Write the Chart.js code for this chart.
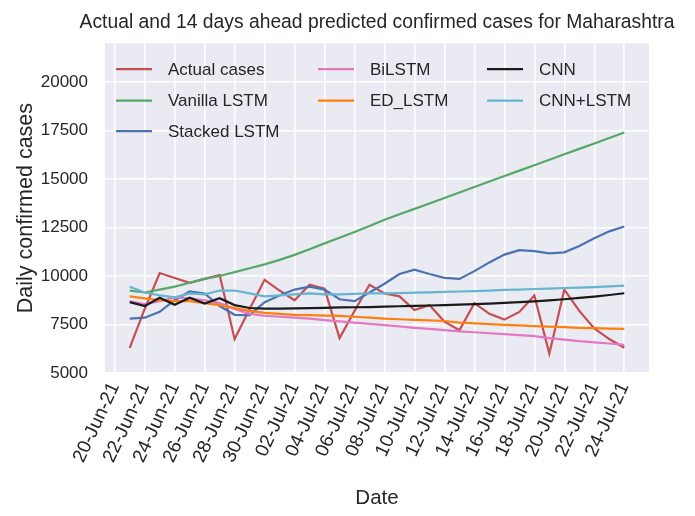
<!DOCTYPE html>
<html>
<head>
<meta charset="utf-8">
<title>Maharashtra predictions</title>
<script src="https://cdn.jsdelivr.net/npm/chart.js@4.4.0/dist/chart.umd.min.js"></script>
<style>
  html, body { margin: 0; padding: 0; background: #ffffff; }
  #wrap { width: 695px; height: 516px; }
</style>
</head>
<body>
<div id="wrap"><canvas id="predChart" width="695" height="516"></canvas></div>
<script>
// Data
const chartTitle = "Actual and 14 days ahead predicted confirmed cases for Maharashtra";
const xAxisTitle = "Date";
const yAxisTitle = "Daily confirmed cases";

const dates = [
  "21-Jun-21", "22-Jun-21", "23-Jun-21", "24-Jun-21", "25-Jun-21", "26-Jun-21", "27-Jun-21",
  "28-Jun-21", "29-Jun-21", "30-Jun-21", "01-Jul-21", "02-Jul-21", "03-Jul-21", "04-Jul-21",
  "05-Jul-21", "06-Jul-21", "07-Jul-21", "08-Jul-21", "09-Jul-21", "10-Jul-21", "11-Jul-21",
  "12-Jul-21", "13-Jul-21", "14-Jul-21", "15-Jul-21", "16-Jul-21", "17-Jul-21", "18-Jul-21",
  "19-Jul-21", "20-Jul-21", "21-Jul-21", "22-Jul-21", "23-Jul-21", "24-Jul-21"
];

const xTickLabels = [
  "20-Jun-21", "22-Jun-21", "24-Jun-21", "26-Jun-21", "28-Jun-21", "30-Jun-21",
  "02-Jul-21", "04-Jul-21", "06-Jul-21", "08-Jul-21", "10-Jul-21", "12-Jul-21",
  "14-Jul-21", "16-Jul-21", "18-Jul-21", "20-Jul-21", "22-Jul-21", "24-Jul-21"
];
const yTicks = [5000, 7500, 10000, 12500, 15000, 17500, 20000];

const actualCases = [6300, 8300, 10150, 9900, 9650, 9850, 10050, 6750, 8300, 9800, 9250, 8750, 9550, 9350,
  6800, 8200, 9550, 9100, 8950, 8250, 8500, 7650, 7200, 8600, 8050, 7750, 8150, 9000,
  6000, 9300, 8200, 7300, 6750, 6300];
const vanillaLstm = [9250, 9150, 9300, 9450, 9650, 9850, 10000, 10200, 10400, 10600, 10830, 11090, 11380, 11680,
  11970, 12270, 12580, 12900, 13180, 13460, 13740, 14020, 14300, 14590, 14870, 15150, 15430, 15710,
  15990, 16270, 16550, 16830, 17110, 17400];
const stackedLstm = [7800, 7850, 8150, 8750, 9200, 9100, 8450, 8000, 7980, 8650, 9000, 9300, 9450, 9300,
  8800, 8700, 9150, 9600, 10100, 10330, 10100, 9900, 9850, 10250, 10700, 11100, 11330, 11280,
  11170, 11220, 11550, 11950, 12300, 12550];
const biLstm = [8700, 8550, 8700, 8900, 8850, 8750, 8600, 8300, 8050, 7950, 7900, 7850, 7800, 7730,
  7660, 7600, 7530, 7470, 7400, 7330, 7270, 7210, 7150, 7100, 7050, 7000, 6950, 6900,
  6800, 6720, 6640, 6580, 6520, 6450];
const edLstm = [8950, 8850, 8750, 8700, 8700, 8600, 8500, 8350, 8200, 8100, 8050, 8000, 7980, 7960,
  7940, 7900, 7850, 7800, 7770, 7740, 7710, 7680, 7600, 7560, 7520, 7480, 7450, 7420,
  7390, 7360, 7330, 7310, 7290, 7270];
const cnn = [8650, 8450, 8880, 8520, 8880, 8580, 8850, 8500, 8350, 8320, 8320, 8330, 8340, 8360,
  8380, 8390, 8400, 8420, 8440, 8460, 8480, 8500, 8520, 8550, 8580, 8610, 8650, 8690,
  8740, 8800, 8870, 8940, 9020, 9110];
const cnnLstm = [9450, 9150, 9000, 8900, 9100, 9050, 9250, 9250, 9100, 8950, 9000, 9050, 9100, 9050,
  9050, 9080, 9100, 9100, 9120, 9140, 9160, 9180, 9200, 9220, 9250, 9280, 9300, 9330,
  9350, 9380, 9400, 9430, 9460, 9500];

const seriesNames = ["Actual cases", "Vanilla LSTM", "Stacked LSTM", "BiLSTM", "ED_LSTM", "CNN", "CNN+LSTM"];
const seriesValues = [actualCases, vanillaLstm, stackedLstm, biLstm, edLstm, cnn, cnnLstm];
const seriesColors = ["#C44E52", "#55A868", "#4C72B0", "#E377C2", "#FF7F0E", "#1A1A1A", "#64B5CD"];

// Day offsets from 20-Jun-21, used as x positions
const monthIndex = { Jun: 5, Jul: 6 };
function dayOf(label) {
  const parts = label.split("-");
  return (Date.UTC(2021, monthIndex[parts[1]], +parts[0]) - Date.UTC(2021, 5, 20)) / 86400000;
}

const FONT = "'Liberation Sans', Arial, sans-serif";
const TEXT = "#262626";

// Paint the seaborn style background behind the grid
const plotBackground = {
  id: "plotBackground",
  beforeDraw(chart) {
    const { ctx, chartArea } = chart;
    ctx.save();
    ctx.fillStyle = "#EAEAF2";
    ctx.fillRect(chartArea.left, chartArea.top, chartArea.right - chartArea.left, chartArea.bottom - chartArea.top);
    ctx.restore();
  }
};

// Center the title over the plot instead of the whole canvas
const titleOverPlot = {
  id: "titleOverPlot",
  afterLayout(chart) {
    if (chart.titleBlock) {
      chart.titleBlock.left = chart.chartArea.left - 45;
      chart.titleBlock.right = chart.chartArea.right + 45;
    }
  }
};

// Legend drawn inside the plot, matplotlib style columns (3, 2, 2)
const innerLegend = {
  id: "innerLegend",
  afterDatasetsDraw(chart) {
    const { ctx, chartArea } = chart;
    const colX = [11, 213, 382];
    const rowY = [26, 57.5, 88];
    const slots = [[0, 0], [0, 1], [0, 2], [1, 0], [1, 1], [2, 0], [2, 1]];
    ctx.save();
    ctx.font = "17px " + FONT;
    ctx.textBaseline = "middle";
    chart.data.datasets.forEach((ds, i) => {
      const x = chartArea.left + colX[slots[i][0]];
      const y = chartArea.top + rowY[slots[i][1]];
      ctx.strokeStyle = ds.borderColor;
      ctx.lineWidth = 2.4;
      ctx.beginPath();
      ctx.moveTo(x, y);
      ctx.lineTo(x + 36, y);
      ctx.stroke();
      ctx.fillStyle = TEXT;
      ctx.fillText(ds.label, x + 52, y + 1);
    });
    ctx.restore();
  }
};

const datasets = seriesNames.map((name, i) => ({
  label: name,
  data: dates.map((d, j) => ({ x: dayOf(d), y: seriesValues[i][j] })),
  borderColor: seriesColors[i],
  backgroundColor: seriesColors[i],
  borderWidth: 2.2,
  pointRadius: 0,
  tension: 0,
  fill: false,
  order: seriesNames.length - i
}));

new Chart(document.getElementById("predChart"), {
  type: "line",
  data: { datasets: datasets },
  plugins: [plotBackground, titleOverPlot, innerLegend],
  options: {
    responsive: false,
    animation: false,
    devicePixelRatio: 1,
    layout: { padding: { left: 0, right: 46, top: 0, bottom: 0 } },
    plugins: {
      legend: { display: false },
      tooltip: { enabled: false },
      title: {
        display: true,
        text: chartTitle,
        color: TEXT,
        font: { family: FONT, size: 19.3, weight: "normal" },
        padding: { top: 11, bottom: 9 }
      }
    },
    scales: {
      x: {
        type: "linear",
        min: -0.65,
        max: 35.65,
        afterBuildTicks: (scale) => {
          scale.ticks = xTickLabels.map(l => ({ value: dayOf(l) }));
        },
        afterFit: (scale) => { scale.height = 143; },
        ticks: {
          autoSkip: false,
          maxRotation: 65,
          minRotation: 65,
          padding: 6,
          color: TEXT,
          font: { family: FONT, size: 19 },
          callback: (value, index) => xTickLabels[index]
        },
        grid: { color: "#FFFFFF", lineWidth: 1.6, drawTicks: false },
        border: { display: false },
        title: {
          display: true,
          text: xAxisTitle,
          color: TEXT,
          font: { family: FONT, size: 20.5 },
          padding: { top: 0, bottom: 5 }
        }
      },
      y: {
        min: 5000,
        max: 22000,
        afterBuildTicks: (scale) => {
          scale.ticks = yTicks.map(v => ({ value: v }));
        },
        afterFit: (scale) => { scale.width = 105; },
        ticks: {
          padding: 17,
          color: TEXT,
          font: { family: FONT, size: 17 },
          callback: (value) => String(value)
        },
        grid: { color: "#FFFFFF", lineWidth: 1.6, drawTicks: false },
        border: { display: false },
        title: {
          display: true,
          text: yAxisTitle,
          color: TEXT,
          font: { family: FONT, size: 21.5 },
          padding: { top: 13, bottom: 0 }
        }
      }
    }
  }
});
</script>
</body>
</html>
